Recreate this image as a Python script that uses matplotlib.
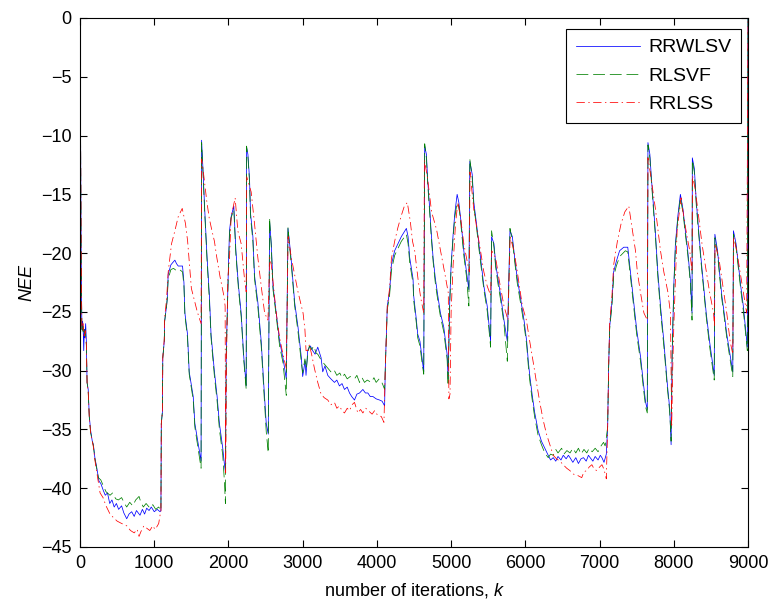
import matplotlib
matplotlib.use('Agg')
import matplotlib.pyplot as plt

plt.rcParams['font.family'] = ['Liberation Sans', 'DejaVu Sans']
plt.rcParams['mathtext.fontset'] = 'custom'
plt.rcParams['mathtext.it'] = 'Liberation Sans:italic'
plt.rcParams['mathtext.rm'] = 'Liberation Sans'
plt.rcParams['lines.scale_dashes'] = False

# RRWLSV (blue, solid)
rrwlsv_k = [0, 15, 25, 35, 45, 50, 58, 65, 76, 85, 95, 110, 125, 143, 165, 180, 200, 224, 255, 280,
            314, 340, 370, 400, 430, 460, 490, 520, 560, 590, 629, 660, 696, 730, 760, 808, 840, 870, 898, 930,
            960, 1000, 1040, 1078, 1090,
            1095, 1110, 1115, 1135, 1140, 1166, 1175, 1188, 1224, 1250, 1278, 1300, 1323, 1381, 1400, 1413, 1448, 1471, 1525, 1547, 1595, 1631,
            1638, 1658, 1680, 1712, 1743, 1765, 1811, 1847, 1878, 1923, 1946, 1959,
            1970, 2000, 2014, 2036, 2072, 2100, 2135, 2171, 2207, 2239,
            2244, 2262, 2284, 2297, 2329, 2351, 2396, 2441, 2477, 2509, 2536,
            2554, 2577, 2600, 2644, 2689, 2734, 2779,
            2802, 2824, 2847, 2892, 2937, 2982, 3000, 3032, 3045, 3068, 3090, 3104, 3135, 3167, 3203, 3248, 3270, 3300,
            3338, 3380, 3428, 3460, 3495, 3530, 3563, 3600, 3631, 3660, 3698, 3730, 3766, 3811, 3845, 3878, 3910, 3946,
            3990, 4036, 4070, 4104,
            4113, 4140, 4171, 4195, 4239, 4284, 4329, 4397, 4420, 4442, 4487, 4495, 4532, 4550, 4580, 4608, 4631,
            4644, 4667, 4685, 4712, 4730, 4757, 4788, 4820, 4856, 4901, 4924, 4946, 4959,
            4982, 5000, 5027, 5050, 5081, 5104, 5126, 5149, 5171, 5207, 5239,
            5252, 5284, 5306, 5342, 5374, 5405, 5441, 5486, 5532,
            5545, 5577, 5600, 5631, 5667, 5712, 5757,
            5793, 5825, 5856, 5892, 5937, 5982, 6018, 6040, 6059, 6095, 6127, 6172, 6217, 6262, 6308, 6340, 6376, 6410,
            6440, 6480, 6511, 6550, 6580, 6602, 6640, 6680, 6715, 6750, 6783, 6820, 6850, 6873, 6910, 6941, 6980, 7010,
            7032, 7060, 7091,
            7109, 7122, 7136, 7167, 7190, 7226, 7270, 7326, 7380, 7416, 7461, 7500, 7554, 7589, 7621, 7643,
            7652, 7678, 7696, 7723, 7754, 7785, 7821, 7866, 7911, 7946, 7964,
            7978, 8000, 8022, 8054, 8089, 8125, 8156, 8188, 8223, 8246,
            8250, 8277, 8304, 8335, 8366, 8402, 8437, 8482, 8513, 8545,
            8554, 8590, 8616, 8647, 8679, 8714, 8750, 8795,
            8804, 8839, 8870, 8902, 8937, 8973, 8991, 9000]
rrwlsv_nee = [0, -20, -26.5, -25.8, -27.0, -28.3, -26.5, -27.2, -26.0, -27.5, -31.0, -31.6, -33.9, -35.1, -36.0, -36.3, -37.4, -38.2, -39.4, -39.6,
              -40.2, -40.6, -40.4, -41.3, -41.0, -41.6, -41.3, -41.8, -41.5, -42.1, -42.6, -42.2, -42.0, -42.4, -41.9, -42.3, -41.8, -42.2, -41.7, -41.9,
              -41.6, -42.0, -41.8, -42.0, -41.9,
              -34.5, -33.5, -28.9, -27.5, -25.8, -24.5, -23.9, -21.8, -21.0, -20.8, -20.6, -20.9, -21.1, -21.1, -22.5, -25.1, -26.9, -30.1, -32.2, -34.5, -36.3, -37.7,
              -10.4, -13.1, -16.3, -20.4, -23.6, -26.9, -30.1, -32.2, -34.5, -36.6, -38.0, -38.6,
              -28.6, -21.0, -18.1, -16.9, -16.0, -19.8, -22.8, -25.1, -28.9, -31.3,
              -11.0, -11.6, -13.7, -16.6, -18.6, -21.9, -24.2, -27.5, -31.3, -34.5, -35.4,
              -17.3, -19.2, -22.8, -25.1, -27.5, -28.9, -30.7,
              -17.9, -19.2, -20.7, -24.2, -26.3, -28.9, -30.5, -29.2, -30.4, -28.3, -28.0, -27.9, -28.3, -28.6, -28.0, -28.9, -30.1, -29.6,
              -30.4, -30.7, -31.0, -30.8, -31.3, -31.1, -31.6, -31.4, -31.9, -32.2, -32.5, -32.0, -31.9, -31.6, -31.9, -31.9, -32.2, -32.2,
              -32.4, -32.5, -32.6, -33.0,
              -29.8, -24.5, -23.3, -21.0, -19.8, -19.2, -18.6, -17.9, -18.6, -20.4, -22.2, -23.6, -25.7, -26.9, -27.5, -28.9, -30.1,
              -10.9, -11.6, -13.9, -16.3, -18.1, -20.4, -22.2, -23.6, -25.1, -26.3, -27.5, -28.6, -30.7,
              -23.9, -21.0, -18.4, -16.6, -15.0, -15.7, -16.9, -18.4, -19.8, -21.6, -23.1,
              -12.2, -13.3, -15.7, -17.5, -19.2, -20.9, -22.8, -24.5, -27.5,
              -18.6, -19.2, -20.9, -22.2, -23.6, -25.7, -27.5,
              -18.1, -18.6, -20.4, -22.2, -23.9, -25.7, -27.5, -29.2, -30.4, -32.2, -33.6, -35.1, -36.0, -36.6, -37.2, -37.6, -37.4, -37.7,
              -37.3, -37.6, -37.2, -37.5, -37.2, -37.4, -37.8, -37.4, -37.9, -37.5, -37.4, -37.7, -37.2, -37.4, -37.7, -37.3, -37.6, -37.2,
              -37.4, -37.8, -37.1,
              -34.8, -29.8, -26.3, -24.2, -21.6, -20.7, -19.8, -19.5, -19.5, -21.6, -24.2, -26.5, -28.9, -31.0, -32.7, -33.3,
              -10.6, -11.6, -13.4, -15.7, -18.4, -21.6, -24.5, -27.5, -31.0, -33.3, -36.3,
              -28.6, -22.8, -19.2, -16.9, -15.0, -16.3, -18.1, -19.8, -22.2, -25.1,
              -11.9, -12.8, -15.7, -18.1, -20.4, -22.8, -25.1, -27.5, -28.9, -30.4,
              -18.4, -19.8, -21.6, -23.6, -25.1, -26.9, -28.3, -30.1,
              -18.1, -19.2, -21.0, -22.8, -24.5, -26.9, -28.0, 0]

# RLSVF (green, dashed)
rlsvf_k = [0, 15, 25, 40, 55, 70, 85, 95, 110, 125, 143, 180, 200, 224, 247, 280, 314, 350, 404, 440,
           480, 516, 560, 600, 629, 670, 710, 750, 795, 820, 853, 890, 943, 980, 1020, 1060, 1090,
           1095, 1110, 1115, 1135, 1140, 1166, 1175, 1188, 1224, 1260, 1300, 1340, 1381, 1400, 1413, 1448, 1471, 1525, 1547, 1595, 1631,
           1638, 1658, 1680, 1712, 1743, 1765, 1811, 1847, 1878, 1923, 1946, 1959,
           1970, 2000, 2014, 2036, 2072, 2100, 2135, 2171, 2207, 2239,
           2244, 2262, 2284, 2297, 2329, 2351, 2396, 2441, 2477, 2509, 2536,
           2554, 2577, 2600, 2644, 2689, 2734, 2779,
           2802, 2824, 2847, 2892, 2937, 2982, 3000, 3030, 3050, 3068, 3090, 3120, 3150, 3180, 3203, 3230, 3260, 3300,
           3340, 3380, 3420, 3460, 3500, 3530, 3563, 3600, 3640, 3698, 3730, 3766, 3800, 3833, 3870, 3923, 3960, 3990,
           4030, 4059, 4080, 4104,
           4113, 4140, 4171, 4195, 4239, 4284, 4329, 4397, 4420, 4442, 4487, 4495, 4532, 4550, 4580, 4608, 4631,
           4644, 4667, 4685, 4712, 4730, 4757, 4788, 4820, 4856, 4901, 4924, 4946, 4959,
           4982, 5000, 5027, 5050, 5081, 5104, 5126, 5149, 5171, 5207, 5239,
           5252, 5284, 5306, 5342, 5374, 5405, 5441, 5486, 5532,
           5545, 5577, 5600, 5631, 5667, 5712, 5757,
           5793, 5825, 5856, 5892, 5937, 5982, 6018, 6040, 6059, 6095, 6127, 6172, 6217, 6262, 6308, 6340, 6376, 6410,
           6440, 6489, 6520, 6560, 6602, 6640, 6680, 6715, 6750, 6790, 6828, 6860, 6900, 6941, 6980, 7020, 7054, 7075, 7091,
           7109, 7122, 7136, 7167, 7190, 7226, 7270, 7348, 7380, 7416, 7461, 7500, 7554, 7589, 7621, 7643,
           7652, 7678, 7696, 7723, 7754, 7785, 7821, 7866, 7911, 7946, 7964,
           7978, 8000, 8022, 8054, 8089, 8125, 8156, 8188, 8223, 8246,
           8250, 8277, 8304, 8335, 8366, 8402, 8437, 8482, 8513, 8545,
           8554, 8590, 8616, 8647, 8679, 8714, 8750, 8795,
           8804, 8839, 8870, 8902, 8937, 8973, 8991, 9000]
rlsvf_nee = [0, -20, -26.8, -26.2, -27.0, -26.5, -27.8, -31.0, -31.8, -34.0, -35.3, -36.4, -37.5, -38.3, -39.1, -39.3, -39.8, -40.3, -40.6, -40.4,
             -40.9, -41.0, -40.8, -41.3, -41.6, -41.2, -41.5, -41.0, -40.7, -41.2, -41.6, -41.3, -41.7, -41.4, -41.8, -41.6, -41.9,
             -34.5, -33.5, -28.9, -27.5, -25.8, -24.5, -23.9, -22.2, -21.4, -21.3, -21.5, -21.4, -21.6, -22.8, -25.3, -27.2, -30.3, -32.5, -34.8, -36.8, -38.3,
             -10.6, -13.3, -16.6, -20.7, -24.0, -27.2, -30.5, -32.6, -35.0, -37.2, -39.5, -41.3,
             -28.6, -21.3, -18.4, -17.0, -16.3, -20.1, -23.1, -25.4, -29.2, -31.6,
             -10.9, -11.8, -14.0, -16.9, -19.0, -22.2, -24.6, -27.9, -31.8, -35.2, -37.0,
             -17.0, -19.5, -23.1, -25.4, -27.9, -29.3, -32.1,
             -17.8, -19.5, -21.0, -24.5, -26.7, -29.3, -30.2, -29.0, -29.8, -28.6, -27.9, -28.2, -27.9, -28.5, -28.6, -28.9, -29.2, -29.5,
             -29.8, -30.1, -29.9, -30.4, -30.2, -30.6, -30.3, -30.7, -30.5, -30.7, -30.4, -31.0, -30.6, -31.0, -30.8, -31.0, -30.6, -31.0,
             -30.7, -30.9, -31.2, -31.6,
             -29.8, -24.8, -23.6, -21.5, -20.2, -19.6, -19.0, -18.4, -19.2, -20.8, -22.6, -24.0, -26.0, -27.2, -27.9, -29.3, -30.3,
             -10.7, -11.9, -14.2, -16.6, -18.4, -20.7, -22.6, -24.0, -25.4, -26.7, -27.9, -29.0, -31.3,
             -24.2, -21.3, -18.7, -16.9, -15.7, -16.0, -17.2, -18.7, -20.2, -22.0, -24.5,
             -12.0, -13.6, -16.0, -17.8, -19.6, -21.2, -23.1, -24.9, -28.0,
             -18.1, -19.5, -21.2, -22.6, -24.0, -26.0, -29.2,
             -17.9, -18.9, -20.7, -22.6, -24.3, -26.1, -27.8, -29.6, -30.8, -32.6, -34.0, -35.5, -36.3, -37.0, -37.4, -37.1, -37.2, -36.7,
             -37.0, -36.6, -37.1, -36.8, -37.0, -36.6, -37.0, -36.6, -37.1, -36.7, -37.0, -36.6, -36.9, -36.6, -36.9, -36.4, -36.1, -36.4, -35.7,
             -34.8, -29.8, -26.5, -24.4, -22.0, -21.1, -20.3, -19.8, -19.9, -22.0, -24.6, -26.9, -29.3, -31.4, -33.1, -33.6,
             -10.8, -11.9, -13.7, -16.0, -18.7, -22.0, -24.9, -27.9, -31.3, -33.6, -36.0,
             -28.6, -23.1, -19.5, -17.2, -15.3, -16.6, -18.4, -20.1, -22.5, -25.7,
             -12.1, -13.1, -16.0, -18.4, -20.7, -23.1, -25.4, -27.9, -29.3, -30.8,
             -18.7, -20.1, -21.9, -23.9, -25.4, -27.2, -28.7, -30.5,
             -18.4, -19.5, -21.3, -23.1, -24.9, -27.2, -28.3, 0]

# RRLSS (red, dash-dot)
rrlss_k = [0, 15, 25, 40, 55, 70, 85, 95, 110, 125, 143, 180, 200, 224, 270, 310, 350, 404, 450, 500,
           560, 629, 680, 730, 770, 795, 820, 860, 898, 940, 980, 1010, 1033, 1060, 1078, 1090,
           1095, 1110, 1115, 1135, 1140, 1166, 1188, 1233, 1278, 1323, 1377, 1421, 1450, 1475, 1500, 1540, 1580, 1631,
           1638, 1660, 1706, 1740, 1774, 1811, 1841, 1886, 1937, 1955, 1962,
           1972, 1991, 2014, 2036, 2090, 2126, 2171, 2216, 2239,
           2246, 2306, 2351, 2396, 2441, 2487, 2532,
           2556, 2577, 2644, 2689, 2734, 2779,
           2804, 2847, 2937, 3005, 3030, 3045, 3068, 3090, 3120, 3158, 3203, 3248, 3290, 3338, 3380, 3428, 3460, 3495,
           3530, 3563, 3600, 3631, 3665, 3698, 3743, 3780, 3811, 3850, 3901, 3935, 3969, 4010, 4059, 4095,
           4113, 4140, 4171, 4195, 4239, 4284, 4329, 4370, 4410, 4450, 4480, 4509, 4554, 4590, 4631,
           4640, 4680, 4737, 4804, 4849, 4917, 4962, 4970, 4985,
           5000, 5027, 5059, 5090, 5126, 5171, 5207, 5245,
           5254, 5306, 5351, 5396, 5441, 5486, 5532,
           5547, 5600, 5645, 5712, 5766,
           5795, 5847, 5892, 5960, 6014, 6059, 6104, 6150, 6195, 6240, 6285, 6330, 6376, 6420, 6466, 6510, 6557, 6600,
           6647, 6700, 6760, 6790, 6828, 6860, 6896, 6930, 6964, 7000, 7032, 7060, 7091,
           7109, 7122, 7136, 7167, 7190, 7240, 7290, 7340, 7394, 7430, 7484, 7509, 7550, 7598, 7643,
           7652, 7696, 7754, 7821, 7866, 7920, 7955, 7972, 7985,
           8000, 8045, 8098, 8134, 8179, 8215, 8246,
           8252, 8290, 8335, 8380, 8424, 8482, 8536, 8549,
           8556, 8607, 8661, 8714, 8759, 8795,
           8806, 8848, 8893, 8937, 8982, 9000]
rrlss_nee = [0, -20, -26.5, -26.0, -27.2, -26.6, -27.8, -31.0, -31.8, -34.0, -35.3, -36.5, -37.6, -38.6, -40.4, -40.8, -41.5, -42.2, -42.5, -42.8,
             -43.0, -43.2, -43.6, -43.8, -43.5, -44.1, -43.7, -43.2, -43.4, -43.6, -43.2, -43.5, -43.3, -43.0, -42.3, -42.0,
             -34.5, -33.5, -28.9, -27.3, -25.5, -23.9, -21.6, -19.2, -18.1, -16.9, -16.2, -17.5, -19.0, -21.0, -23.0, -24.0, -25.0, -26.0,
             -12.0, -13.0, -15.5, -17.0, -18.0, -19.0, -20.3, -22.0, -23.6, -24.5, -38.7,
             -29.8, -22.2, -20.4, -16.9, -15.3, -18.1, -19.2, -22.2, -23.3,
             -13.5, -14.8, -17.5, -20.4, -22.8, -25.1, -25.7,
             -20.4, -21.0, -25.1, -27.2, -28.6, -29.8,
             -18.6, -20.4, -23.3, -25.1, -26.5, -28.3, -28.3, -27.8, -28.6, -29.8, -31.0, -32.0, -32.3, -32.5, -32.9, -32.7, -33.2, -33.0,
             -33.4, -33.6, -33.2, -33.4, -32.9, -32.7, -33.6, -33.3, -33.6, -33.2, -33.5, -33.7, -33.4, -33.8, -33.9, -34.4,
             -29.8, -24.5, -23.0, -20.5, -19.0, -17.8, -16.8, -16.0, -15.7, -17.3, -19.0, -19.8, -22.2, -23.8, -25.1,
             -12.1, -13.5, -16.5, -18.0, -19.5, -21.8, -23.4, -32.4, -32.0,
             -25.0, -21.0, -17.5, -15.7, -16.9, -19.2, -20.4, -21.6,
             -13.1, -16.3, -18.1, -19.8, -21.6, -22.8, -23.6,
             -19.8, -20.4, -22.2, -24.5, -25.7,
             -18.6, -19.8, -21.6, -24.5, -25.7, -27.5, -29.2, -31.0, -32.7, -34.2, -35.4, -36.3, -37.2, -37.5, -37.7, -38.0, -38.3, -38.5,
             -38.8, -38.9, -39.1, -38.6, -38.5, -38.2, -38.0, -38.4, -38.5, -38.2, -38.0, -38.4, -39.2,
             -34.8, -29.8, -26.0, -23.6, -21.0, -19.0, -17.5, -16.5, -16.0, -17.5, -19.8, -21.6, -23.3, -25.1, -25.7,
             -11.9, -13.7, -16.3, -19.8, -21.6, -23.3, -25.1, -34.8, -30.0,
             -26.3, -18.1, -15.3, -16.9, -18.6, -19.8, -21.6,
             -13.4, -14.6, -16.9, -19.2, -21.0, -23.3, -25.1, -26.3,
             -19.2, -20.4, -22.8, -25.1, -27.5, -28.6,
             -18.6, -19.8, -21.6, -23.3, -25.1, 0]

x_ticks = list(range(0, 9001, 1000))
y_ticks = list(range(-45, 1, 5))

fig = plt.figure(figsize=(7.74, 6.02), dpi=100)
ax = fig.add_axes([0.1034, 0.0914, 0.8630, 0.8787])

ax.plot(rrwlsv_k, rrwlsv_nee, color='#0000ff', lw=0.55, label='RRWLSV')
ax.plot(rlsvf_k, rlsvf_nee, color='#008000', lw=0.55, dashes=(8.5, 3.5), label='RLSVF')
ax.plot(rrlss_k, rrlss_nee, color='#ff0000', lw=0.55, dashes=(6, 2.5, 1, 2.5), label='RRLSS')

ax.set_xlim(0, 9000)
ax.set_ylim(-45, 0)
ax.set_xticks(x_ticks)
ax.set_yticks(y_ticks)
ax.tick_params(direction='in', top=True, right=True, length=5, width=0.8, labelsize=13, pad=6)
for s in ax.spines.values():
    s.set_linewidth(0.8)

ax.set_xlabel('number of iterations, $k$', fontsize=13, labelpad=6)
ax.set_ylabel('NEE', fontsize=13, fontstyle='italic', labelpad=4)

leg = ax.legend(loc='upper right', bbox_to_anchor=(0.9895, 0.979), borderaxespad=0,
                fontsize=14, fancybox=False, edgecolor='black', framealpha=1,
                handlelength=3.3, handletextpad=0.4, labelspacing=0.55, borderpad=0.5)
leg.get_frame().set_linewidth(0.8)

fig.savefig('out.png', dpi=100)
